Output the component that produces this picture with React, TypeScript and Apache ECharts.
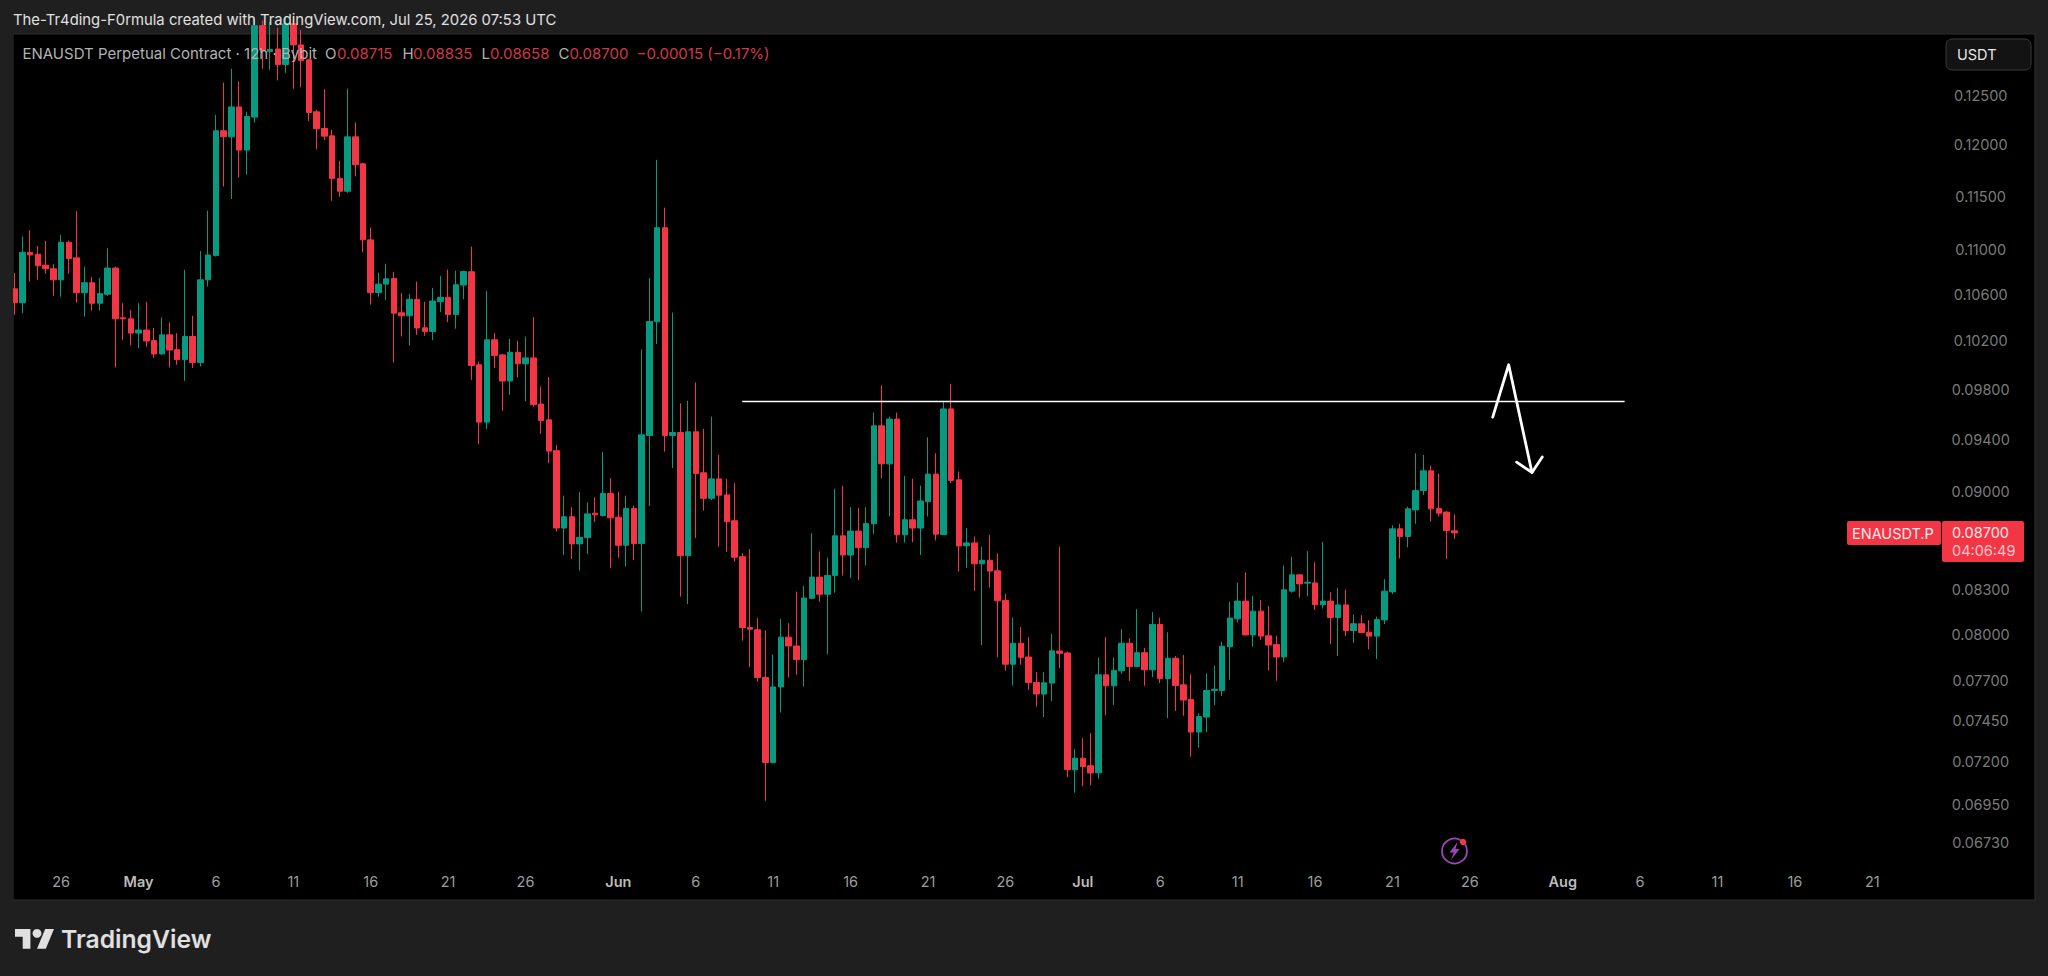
import React, { useEffect, useRef } from "react";
import * as echarts from "echarts";

const opens = [
0.10649,0.10528,0.10976,0.10959,0.10860,0.10828,0.10729,0.11068,0.10926,0.10615,
0.10703,0.10523,0.10601,0.10834,0.10397,0.10388,0.10266,0.10292,0.10202,0.10090,
0.10251,0.10126,0.10043,0.10237,0.10019,0.10729,0.10948,0.12139,0.12078,0.12381,
0.11947,0.12277,0.13243,0.12963,0.12990,0.12824,0.13264,0.13034,0.12874,0.12331,
0.12162,0.12088,0.11669,0.11546,0.12078,0.11811,0.11090,0.10617,0.10691,0.10741,
0.10440,0.10414,0.10557,0.10311,0.10280,0.10536,0.10575,0.10425,0.10682,0.10801,
0.10000,0.09536,0.10209,0.10082,0.09866,0.10104,0.10008,0.10057,0.09680,0.09554,
0.09313,0.08735,0.08817,0.08621,0.08666,0.08843,0.08826,0.08988,0.08814,0.08611,
0.08877,0.08623,0.09431,0.10363,0.11202,0.09431,0.09454,0.08537,0.09460,0.09144,
0.08953,0.09098,0.08978,0.08788,0.08530,0.08044,0.08029,0.07718,0.07193,0.07658,
0.07980,0.07922,0.07833,0.08241,0.08387,0.08269,0.08398,0.08679,0.08542,0.08713,
0.08594,0.08766,0.09507,0.09212,0.09560,0.08686,0.08795,0.08735,0.08928,0.09134,
0.08688,0.09641,0.09091,0.08608,0.08628,0.08480,0.08505,0.08431,0.08227,0.07803,
0.07940,0.07850,0.07686,0.07613,0.07682,0.07889,0.07876,0.07150,0.07219,0.07174,
0.07132,0.07735,0.07665,0.07761,0.07940,0.07788,0.07878,0.07767,0.08064,0.07711,
0.07842,0.07671,0.07579,0.07377,0.07469,0.07635,0.07635,0.07917,0.08102,0.08222,
0.07995,0.08154,0.07989,0.07931,0.07850,0.08290,0.08403,0.08345,0.08347,0.08198,
0.08222,0.08111,0.08196,0.08024,0.08069,0.08013,0.07987,0.08095,0.08285,0.08729,
0.08674,0.08867,0.09010,0.09159,0.08877,0.08851,0.08715,
];

const closes = [
0.10528,0.10976,0.10952,0.10854,0.10828,0.10729,0.11068,0.10919,0.10615,0.10703,
0.10523,0.10607,0.10834,0.10388,0.10388,0.10266,0.10292,0.10199,0.10090,0.10251,
0.10123,0.10043,0.10237,0.10019,0.10729,0.10952,0.12139,0.12078,0.12381,0.11947,
0.12283,0.13243,0.12979,0.12985,0.12821,0.13264,0.13034,0.12866,0.12324,0.12159,
0.12085,0.11669,0.11546,0.12078,0.11801,0.11090,0.10617,0.10691,0.10738,0.10437,
0.10414,0.10557,0.10309,0.10280,0.10542,0.10575,0.10425,0.10685,0.10803,0.09994,
0.09536,0.10209,0.10076,0.09866,0.10104,0.10008,0.10057,0.09675,0.09549,0.09310,
0.08735,0.08817,0.08621,0.08668,0.08838,0.08831,0.08988,0.08809,0.08611,0.08877,
0.08623,0.09436,0.10365,0.11202,0.09431,0.09454,0.08537,0.09460,0.09139,0.08953,
0.09098,0.08976,0.08782,0.08526,0.08044,0.08033,0.07718,0.07193,0.07658,0.07980,
0.07922,0.07833,0.08243,0.08387,0.08269,0.08398,0.08679,0.08542,0.08713,0.08594,
0.08768,0.09507,0.09212,0.09560,0.08686,0.08795,0.08735,0.08933,0.09134,0.08691,
0.09641,0.09086,0.08606,0.08628,0.08480,0.08505,0.08429,0.08224,0.07803,0.07940,
0.07848,0.07686,0.07613,0.07684,0.07890,0.07874,0.07150,0.07219,0.07169,0.07131,
0.07735,0.07665,0.07763,0.07940,0.07788,0.07878,0.07767,0.08064,0.07711,0.07842,
0.07667,0.07575,0.07377,0.07472,0.07635,0.07643,0.07920,0.08107,0.08222,0.07995,
0.08154,0.07987,0.07928,0.07850,0.08299,0.08403,0.08340,0.08352,0.08198,0.08222,
0.08111,0.08196,0.08024,0.08069,0.08011,0.07987,0.08097,0.08290,0.08729,0.08674,
0.08875,0.09010,0.09159,0.08875,0.08843,0.08717,0.08700,
];

const highs = [
0.10789,0.11121,0.11178,0.11034,0.11081,0.10869,0.11136,0.11084,0.11357,0.10848,
0.10753,0.10745,0.11013,0.10845,0.10523,0.10465,0.10523,0.10536,0.10309,0.10399,
0.10357,0.10266,0.10819,0.10414,0.10988,0.11362,0.12300,0.12634,0.12779,0.12645,
0.12331,0.13330,0.13300,0.13286,0.13221,0.13352,0.13352,0.13199,0.12880,0.12351,
0.12565,0.12149,0.11840,0.12571,0.12223,0.11820,0.11204,0.10792,0.10872,0.10801,
0.10612,0.10605,0.10714,0.10536,0.10658,0.10762,0.10821,0.10810,0.10812,0.11028,
0.10027,0.10631,0.10266,0.10090,0.10216,0.10202,0.10237,0.10403,0.09821,0.09899,
0.09357,0.08973,0.08887,0.08998,0.08923,0.08960,0.09303,0.09104,0.09000,0.08973,
0.08899,0.10129,0.10745,0.11850,0.11390,0.10442,0.09686,0.09706,0.09854,0.09483,
0.09580,0.09280,0.09099,0.09066,0.08554,0.08584,0.08107,0.08024,0.07867,0.08102,
0.08073,0.08287,0.08326,0.08698,0.08568,0.08523,0.09025,0.09046,0.08887,0.08880,
0.08887,0.09612,0.09830,0.09580,0.09612,0.09121,0.09099,0.09048,0.09417,0.09293,
0.09706,0.09843,0.09154,0.08735,0.08674,0.08601,0.08686,0.08554,0.08271,0.08111,
0.08047,0.07980,0.07752,0.07752,0.08002,0.08601,0.07885,0.07274,0.07340,0.07370,
0.07846,0.07980,0.07846,0.08033,0.07973,0.08167,0.07910,0.08147,0.08111,0.08013,
0.07857,0.07863,0.07739,0.07493,0.07743,0.07793,0.07950,0.08216,0.08350,0.08419,
0.08257,0.08229,0.08189,0.07989,0.08468,0.08530,0.08407,0.08570,0.08491,0.08635,
0.08283,0.08313,0.08301,0.08131,0.08127,0.08093,0.08117,0.08373,0.08755,0.08766,
0.08891,0.09293,0.09280,0.09199,0.09137,0.08860,0.08835,
];

const lows = [
0.10423,0.10437,0.10714,0.10729,0.10783,0.10589,0.10580,0.10783,0.10528,0.10408,
0.10459,0.10459,0.10587,0.09978,0.10209,0.10163,0.10138,0.10151,0.10057,0.10085,
0.09978,0.10000,0.09868,0.09973,0.09986,0.10670,0.10937,0.11591,0.11472,0.11678,
0.11707,0.12220,0.12779,0.12768,0.12656,0.12737,0.12568,0.12584,0.12235,0.11954,
0.12048,0.11455,0.11493,0.11530,0.11688,0.10976,0.10511,0.10580,0.10551,0.10019,
0.10237,0.10160,0.10251,0.10243,0.10206,0.10446,0.10360,0.10303,0.10557,0.09876,
0.09363,0.09481,0.09973,0.09625,0.09753,0.09895,0.09702,0.09659,0.09444,0.09217,
0.08710,0.08542,0.08514,0.08433,0.08549,0.08778,0.08820,0.08450,0.08523,0.08461,
0.08507,0.08151,0.08896,0.10174,0.09305,0.09180,0.08252,0.08202,0.08663,0.08862,
0.08940,0.08601,0.08565,0.08496,0.07957,0.07784,0.07692,0.06969,0.07187,0.07497,
0.07718,0.07735,0.07660,0.08234,0.08218,0.07869,0.08280,0.08398,0.08380,0.08368,
0.08468,0.08693,0.09104,0.08819,0.08630,0.08630,0.08633,0.08542,0.08819,0.08645,
0.08686,0.09066,0.08426,0.08450,0.08292,0.07928,0.08315,0.07848,0.07761,0.07667,
0.07799,0.07639,0.07534,0.07469,0.07569,0.07778,0.07107,0.07016,0.07052,0.07058,
0.07097,0.07479,0.07544,0.07741,0.07695,0.07784,0.07665,0.07720,0.07682,0.07463,
0.07507,0.07477,0.07228,0.07282,0.07376,0.07544,0.07601,0.07703,0.08077,0.07992,
0.07917,0.07962,0.07763,0.07697,0.07816,0.08280,0.08245,0.08255,0.08162,0.08171,
0.07935,0.07858,0.07987,0.07942,0.08009,0.07900,0.07837,0.08067,0.08271,0.08519,
0.08597,0.08766,0.08978,0.08782,0.08819,0.08514,0.08658,
];

const timeTickKeys = [
  "04-26","05-01","05-06","05-11","05-16","05-21","05-26",
  "06-01","06-06","06-11","06-16","06-21","06-26",
  "07-01","07-06","07-11","07-16","07-21","07-26",
  "08-01","08-06","08-11","08-16","08-21",
];
const timeTickLabels = [
  "26","May","6","11","16","21","26",
  "Jun","6","11","16","21","26",
  "Jul","6","11","16","21","26",
  "Aug","6","11","16","21",
];
const priceTicks = [0.125,0.12,0.115,0.11,0.106,0.102,0.098,0.094,0.09,0.083,0.08,0.077,0.0745,0.072,0.0695,0.0673];
const levelPrice = 0.097;
const levelBars = [94, 208];
const arrowBars = [190.96, 193.02, 196.03];
const arrowPrices = [0.09576, 0.10000, 0.09146];
const arrowHeadBars = [194.05, 196.03, 197.36];
const arrowHeadPrices = [0.09225, 0.09146, 0.09265];
const priceLabelBar = 254;
const barCount = 262;

const UP = "#089981";
const DOWN = "#f23645";
const FRAME = "#1f1f1f";
const FONT = "Inter, 'Noto Sans', sans-serif";

const pad2 = (n: number) => String(n).padStart(2, "0");
const categories: string[] = Array.from({ length: barCount }, (_, i) => {
  const d = new Date(Date.UTC(2026, 3, 23) + i * 12 * 3600 * 1000);
  const key = pad2(d.getUTCMonth() + 1) + "-" + pad2(d.getUTCDate());
  return key + " " + pad2(d.getUTCHours());
});
const tickMap = new Map<string, string>(
  timeTickKeys.map((k, i) => [k + " 00", timeTickLabels[i]])
);

export default function App() {
  const ref = useRef<HTMLDivElement>(null);
  useEffect(() => {
    document.body.style.margin = "0";
    document.body.style.background = FRAME;
    document.body.style.overflow = "hidden";
    const chart = echarts.init(ref.current!, undefined, { renderer: "svg" });

    const gtext = (text: string, x: number, y: number, fill: string, size: number, extra: any = {}) => ({
      type: "text",
      z: 100,
      x,
      y,
      style: { text, fill, font: `${extra.weight || 400} ${size}px ${FONT}`, textVerticalAlign: "middle", textAlign: extra.align || "left" },
    });

    const legendGray = "#b2b2b2";
    const legendRed = "#d2384a";
    const axisGray = "#9c9c9c";
    const last = closes.length - 1;
    const tagRed = "#f23645";

    const option: any = {
      animation: false,
      backgroundColor: FRAME,
      grid: { left: 10.83, top: 34, width: barCount * 7.74, height: 828, show: false, containLabel: false },
      xAxis: [
        {
          type: "category",
          data: categories,
          boundaryGap: true,
          axisLine: { show: false },
          axisTick: { show: false },
          splitLine: { show: false },
          axisLabel: {
            show: true,
            interval: (_: number, value: string) => tickMap.has(value),
            margin: 12,
            hideOverlap: false,
            color: axisGray,
            fontFamily: FONT,
            fontSize: 14.5,
            formatter: (value: string) => {
              const t = tickMap.get(value) || "";
              return /[A-Za-z]/.test(t) ? `{m|${t}}` : t;
            },
            rich: { m: { color: "#bcbcbc", fontWeight: 600, fontFamily: FONT, fontSize: 14.5 } },
          },
        },
        { type: "value", show: false, min: -0.5, max: barCount - 0.5, gridIndex: 0 },
      ],
      yAxis: {
        type: "log",
        logBase: 10,
        min: 0.06624,
        max: 0.13152,
        axisLine: { show: false },
        axisTick: { show: false },
        splitLine: { show: false },
        axisLabel: { show: false },
      },
      series: [
        {
          type: "candlestick",
          xAxisIndex: 0,
          barWidth: 6,
          clip: true,
          itemStyle: { color: UP, color0: DOWN, borderColor: UP, borderColor0: DOWN, borderWidth: 1 },
          data: opens.map((o, i) => [o, closes[i], lows[i], highs[i]]),
        },
        {
          type: "line",
          xAxisIndex: 1,
          symbol: "none",
          lineStyle: { color: "#ffffff", width: 1.6 },
          data: levelBars.map((b) => [b, levelPrice]),
          z: 5,
        },
        {
          type: "line",
          xAxisIndex: 1,
          symbol: "none",
          lineStyle: { color: "#ffffff", width: 2.8, cap: "round", join: "round" },
          data: arrowBars.map((b, i) => [b, arrowPrices[i]]),
          z: 5,
        },
        {
          type: "line",
          xAxisIndex: 1,
          symbol: "none",
          lineStyle: { color: "#ffffff", width: 2.8, cap: "round", join: "round" },
          data: arrowHeadBars.map((b, i) => [b, arrowHeadPrices[i]]),
          z: 5,
        },
        {
          type: "scatter",
          xAxisIndex: 1,
          symbolSize: 0,
          silent: true,
          data: priceTicks.map((p) => [priceLabelBar, p]),
          z: 6,
          label: {
            show: true,
            position: "inside",
            formatter: (p: any) => p.value[1].toFixed(5),
            color: axisGray,
            fontFamily: FONT,
            fontSize: 14.5,
          },
        },
      ],
      graphic: {
        elements: [
          // pane
          { type: "rect", z: -5, shape: { x: 13, y: 34, width: 2022, height: 866 }, style: { fill: "#000000", stroke: "#2e2e2e", lineWidth: 1 } },
          // frame covers for clipped bars
          { type: "rect", z: 90, shape: { x: 0, y: 0, width: 13, height: 976 }, style: { fill: FRAME } },
          { type: "rect", z: 90, shape: { x: 2036, y: 0, width: 12, height: 976 }, style: { fill: FRAME } },
          gtext("The-Tr4ding-F0rmula created with TradingView.com, Jul 25, 2026 07:53 UTC", 13, 20, "#e0e0e0", 14.85),
          gtext("ENAUSDT Perpetual Contract · 12h · Bybit", 22.5, 53.5, legendGray, 15),
          gtext("O", 325, 53.5, legendGray, 15),
          gtext(opens[last].toFixed(5), 337, 53.5, legendRed, 15),
          gtext("H", 402.5, 53.5, legendGray, 15),
          gtext(highs[last].toFixed(5), 413, 53.5, legendRed, 15),
          gtext("L", 481.5, 53.5, legendGray, 15),
          gtext(lows[last].toFixed(5), 490, 53.5, legendRed, 15),
          gtext("C", 558.5, 53.5, legendGray, 15),
          gtext(closes[last].toFixed(5), 569.5, 53.5, legendRed, 15),
          gtext("−0.00015 (−0.17%)", 636.5, 53.5, legendRed, 15),
          // USDT button
          { type: "rect", z: 95, shape: { x: 1946, y: 39, width: 85, height: 31, r: 6 }, style: { fill: "#131313", stroke: "#3a3a3a", lineWidth: 1 } },
          gtext("USDT", 1957, 54.5, "#e6e6e6", 14.5),
          // last price tag
          { type: "rect", z: 95, shape: { x: 1847, y: 521, width: 94, height: 24, r: 2 }, style: { fill: tagRed } },
          { type: "rect", z: 95, shape: { x: 1942, y: 521, width: 82, height: 41, r: 2 }, style: { fill: tagRed } },
          gtext("ENAUSDT.P", 1852, 533, "#ffe9ec", 14.5),
          gtext(closes[last].toFixed(5), 1952, 532.5, "#ffe9ec", 14.5),
          gtext("04:06:49", 1952, 550, "#ffc4cb", 14.5),
          // TradingView logo
          { type: "polygon", z: 95, shape: { points: [[15, 929], [30.4, 929], [30.4, 948.8], [22.7, 948.8], [22.7, 936.7], [15, 936.7]] }, style: { fill: "#e0e0e0" } },
          { type: "circle", z: 95, shape: { cx: 37, cy: 933.4, r: 4.4 }, style: { fill: "#e0e0e0" } },
          { type: "polygon", z: 95, shape: { points: [[45.2, 929], [54, 929], [45.8, 948.8], [37, 948.8]] }, style: { fill: "#e0e0e0" } },
          gtext("TradingView", 61, 938.5, "#e0e0e0", 24.7, { weight: 600 }),
          // purple flash icon
          { type: "circle", z: 95, shape: { cx: 1454.5, cy: 851, r: 12.5 }, style: { fill: "#000000", stroke: "#9c45b8", lineWidth: 1.8 } },
          { type: "polygon", z: 96, shape: { points: [[1457.5, 842], [1449.5, 852.5], [1453.8, 852.5], [1451, 860], [1459.5, 849], [1455.5, 849]] }, style: { fill: "#9c45b8" } },
          { type: "circle", z: 97, shape: { cx: 1463, cy: 842, r: 3.2 }, style: { fill: "#f23645" } },
        ],
      },
    };
    chart.setOption(option);
    return () => chart.dispose();
  }, []);
  return <div ref={ref} style={{ width: 2048, height: 976 }} />;
}
